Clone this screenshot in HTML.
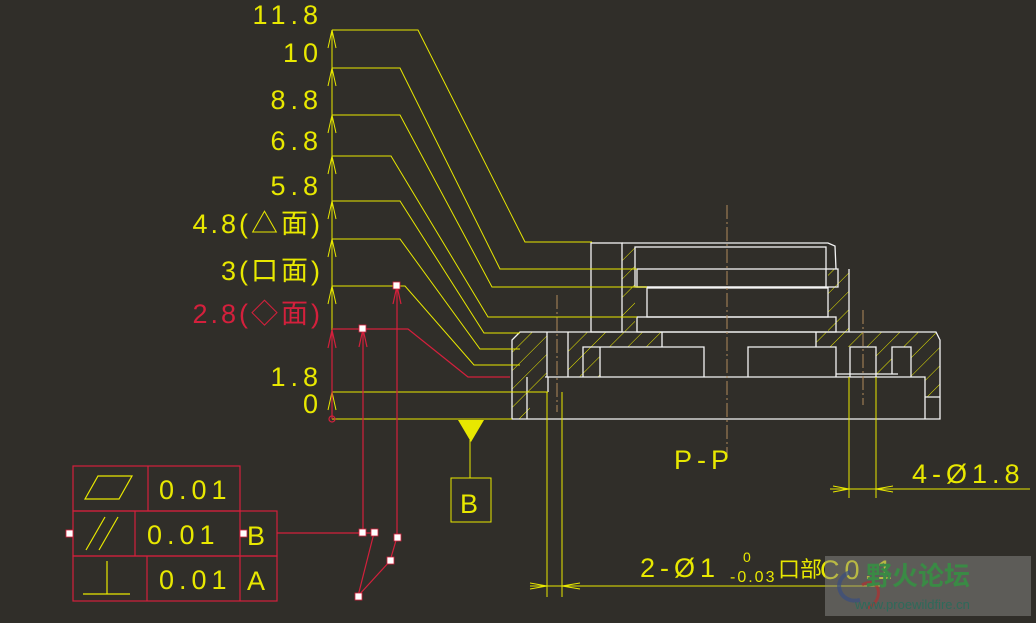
<!DOCTYPE html>
<html><head><meta charset="utf-8"><style>
html,body{margin:0;padding:0;background:#302e29;}
svg{display:block}
text{font-family:"Liberation Sans","Noto Sans CJK SC",sans-serif;}
</style></head><body>
<svg width="1036" height="623" viewBox="0 0 1036 623" xmlns="http://www.w3.org/2000/svg">
<defs>
<pattern id="h" width="13" height="13" patternUnits="userSpaceOnUse" patternTransform="rotate(45)">
<line x1="0" y1="0" x2="0" y2="13" stroke="#e8e800" stroke-width="1"/>
</pattern>
</defs>
<rect width="1036" height="623" fill="#302e29"/>

<g fill="url(#h)">
<rect x="622" y="243" width="13" height="89"/>
<rect x="828" y="269" width="21" height="63"/>
<polygon points="512,340 520,332 662,332 662,347 600,347 600,377 568,377 568,332 547,332 547,390 530,390 530,419 512,419"/>
<polygon points="816,332 936,332 940,340 940,397 925,397 925,377 911,377 911,347 892,347 892,377 876,377 876,347 836,347 836,347 816,347"/>
</g>

<g fill="none" stroke="#f4f4f4" stroke-width="1.3">
<rect x="591" y="243" width="31" height="89"/>
<path d="M622,243 L828,243 L835,246 L836,269"/>
<rect x="635" y="247" width="191" height="40"/>
<rect x="637" y="269" width="201" height="18"/>
<rect x="647" y="288" width="181" height="29"/>
<rect x="637" y="317" width="199" height="15"/>
<path d="M849,269 L849,332"/>
<path d="M512,419 L512,340 L520,332 L936,332 L940,340 L940,419 Z"/>
<path d="M547,332 L547,377 M568,332 L568,377"/>
<path d="M583,377 L583,347 L704,347 L704,377"/>
<path d="M600,347 L600,377"/>
<path d="M662,332 L662,347 M816,332 L816,347"/>
<path d="M748,377 L748,347 L836,347 L836,377"/>
<path d="M545,377 L925,377 L925,419 M925,397 L940,397"/>
<path d="M527,377 L527,419 M548,377 L548,392"/>
<path d="M850,377 L850,347 L876,347 L876,377 M892,374 L892,347 L911,347 L911,377 M836,374 L898,374"/>
</g>

<g stroke="#b08a5a" stroke-width="1" stroke-dasharray="14,3,2,3" fill="none">
<line x1="727" y1="205" x2="727" y2="455"/>
<line x1="557" y1="295" x2="557" y2="412"/>
<line x1="863" y1="310" x2="863" y2="405"/>
</g>

<g stroke="#e8e800" stroke-width="1" fill="none">
<line x1="332" y1="30" x2="332" y2="419"/>
<path d="M332,30 H418 L525,242 H592"/>
<path d="M332,68 H400 L500,269 H637"/>
<path d="M332,115 H400 L492,287 H647"/>
<path d="M332,156 H391 L488,317 H637"/>
<path d="M332,201 H400 L484,333 H520"/>
<path d="M332,239 H400 L480,349 H520"/>
<path d="M332,286 H405 L474,365 H520"/>
<path d="M332,392 H548 M332,419 H512"/>
<path d="M547,392 V597 M562,392 V597 M530,586 H880"/>
<path d="M849,377 V498 M876,377 V498 M830,489 H1030"/>
<path d="M470,440 V478"/>
<rect x="451" y="478" width="40" height="44"/>
</g>
<polygon points="458,420 484,420 471,442" fill="#e8e800"/>
<g stroke="#e8e800" stroke-width="1" fill="none">
<path d="M328,48 L332,30 L336,48 M328,86 L332,68 L336,86 M328,133 L332,115 L336,133 M328,174 L332,156 L336,174 M328,219 L332,201 L336,219 M328,257 L332,239 L336,257 M328,304 L332,286 L336,304 M328,410 L332,392 L336,410"/>
<path d="M530,583 L547,586 L530,589 M580,583 L562,586 L580,589 M833,486 L849,489 L833,492 M893,486 L876,489 L893,492"/>
</g>

<g fill="#e8e800" font-size="27" text-anchor="end" letter-spacing="5">
<text x="323" y="24">11.8</text>
<text x="323" y="62">10</text>
<text x="323" y="109">8.8</text>
<text x="323" y="150">6.8</text>
<text x="323" y="195">5.8</text>
<text x="323" y="233" letter-spacing="3">4.8(△面)</text>
<text x="323" y="280" letter-spacing="3">3(口面)</text>
<text x="323" y="386">1.8</text>
<text x="323" y="413">0</text>
</g>
<g fill="#e8e800" font-size="27" letter-spacing="5">
<text x="674" y="469">P-P</text>
<text x="912" y="483">4-Ø1.8</text>
<text x="640" y="577">2-Ø1</text>
<text x="460" y="513">B</text>
</g>
<g fill="#e8e800">
<text x="743" y="562" font-size="14">0</text>
<text x="730" y="582" font-size="16" letter-spacing="2">-0.03</text>
<text x="778" y="577" font-size="22">口部</text>
<text x="820" y="579" font-size="27" letter-spacing="5">C0.1</text>
</g>
<text x="323" y="323" font-size="27" fill="#d4203c" text-anchor="end" letter-spacing="3">2.8(◇面)</text>

<g stroke="#d4203c" stroke-width="1.2" fill="none">
<path d="M332,419 V330 M332,329 H408 L468,377 H510"/>
<path d="M363,329 V533 M397,286 V537 M277,533 H375"/>
<path d="M374,533 L358,596 L390,561 L397,537"/>
<path d="M328,348 L332,330 L336,348 M359,347 L363,329 L367,347 M393,304 L397,286 L401,304"/>
<circle cx="332" cy="419" r="3"/>
<rect x="73" y="466" width="167" height="45"/>
<rect x="73" y="511" width="204" height="45"/>
<rect x="73" y="556" width="204" height="45"/>
<path d="M148,466 V511 M135,511 V556 M240,511 V601 M147,556 V601"/>
</g>
<g fill="#fff" stroke="#d4203c" stroke-width="0.8">
<rect x="359" y="325" width="7" height="7"/>
<rect x="393" y="282" width="7" height="7"/>
<rect x="359" y="529" width="7" height="7"/>
<rect x="371" y="529" width="7" height="7"/>
<rect x="394" y="534" width="7" height="7"/>
<rect x="387" y="557" width="7" height="7"/>
<rect x="355" y="593" width="7" height="7"/>
<rect x="66" y="530" width="7" height="7"/>
<rect x="240" y="530" width="7" height="7"/>
</g>
<g stroke="#e8e800" stroke-width="1.2" fill="none">
<polygon points="85,499 98,476 132,476 119,499"/>
<path d="M86,550 L105,517 M99,550 L118,517"/>
<path d="M83,594 H130 M107,594 V561"/>
</g>
<g fill="#e8e800" font-size="27" letter-spacing="5">
<text x="159" y="499">0.01</text>
<text x="147" y="544">0.01</text>
<text x="159" y="589">0.01</text>
<text x="247" y="545">B</text>
<text x="247" y="590">A</text>
</g>

<rect x="825" y="556" width="206" height="60" fill="#8a8a88" opacity="0.5"/>
<path d="M850,572 C830,580 840,605 860,600" stroke="#3a4f80" stroke-width="4" fill="none" opacity="0.7"/>
<path d="M862,585 C880,575 885,600 868,608" stroke="#b03030" stroke-width="3" fill="none" opacity="0.7"/>
<text x="866" y="585" font-size="26" font-weight="bold" fill="#3a8a45">野火论坛</text>
<text x="855" y="609" font-size="13" fill="#2e6a5a">www.proewildfire.cn</text>
</svg>
</body></html>
